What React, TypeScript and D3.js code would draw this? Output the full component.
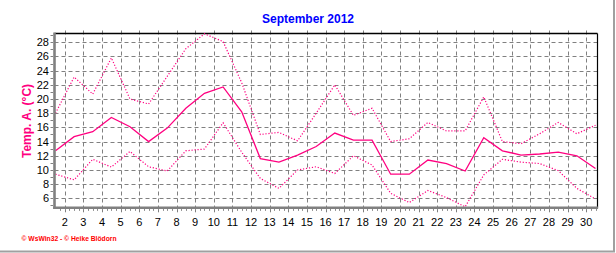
import React from "react";
import * as d3 from "d3";

const days = [1,2,3,4,5,6,7,8,9,10,11,12,13,14,15,16,17,18,19,20,21,22,23,24,25,26,27,28,29,30];
const maxT = [18.0,23.1,20.7,25.8,20.0,19.3,23.2,27.1,29.2,28.1,22.3,15.0,15.3,14.1,18.0,22.0,17.7,18.7,14.0,14.4,16.7,15.5,15.5,20.3,14.0,13.7,15.1,16.7,15.1,16.3];
const avgT = [12.7,14.7,15.4,17.4,16.1,14.0,15.9,18.7,20.8,21.7,18.2,11.6,11.1,12.1,13.3,15.2,14.2,14.2,9.4,9.4,11.4,10.9,9.85,14.55,12.7,12.1,12.25,12.5,12.0,10.2];
const minT = [9.4,8.6,11.5,10.4,12.6,10.45,9.85,12.7,12.95,16.65,12.5,8.8,7.4,10.0,10.45,9.5,12.0,10.7,6.7,5.4,7.1,6.1,4.8,9.3,11.5,11.1,10.9,9.9,7.4,5.9];
const yTicks = [6,8,10,12,14,16,18,20,22,24,26,28];
const xTicks = [2,3,4,5,6,7,8,9,10,11,12,13,14,15,16,17,18,19,20,21,22,23,24,25,26,27,28,29,30];
const title = "September 2012";
const yTitle = "Temp. A. (°C)";
const footer = "© WsWin32 - © Heike Blödorn";

const W = 616, H = 253;
const PL = 54.5, PR = 597.5, PT = 33.5, PB = 207.8;
const PINK = "#FF0080";

export default function App() {
  const x = d3.scaleLinear().domain([1.5, 30.5]).range([55.5, 595.5]);
  const y = d3.scaleLinear().domain([6, 28]).range([198.3, 42.3]);
  const line = d3.line<number>().x((_, i) => x(days[i] + 0.5)).y((v) => y(v));

  const minorX: number[] = [];
  for (let d = 1.75; d <= 30.5; d += 0.25) if (x(d) > PL + 1 && x(d) < PR) minorX.push(d);
  const minorY = d3.range(5, 30).filter((v) => y(v) > PT && y(v) < PB);

  return (
    <svg width={W} height={H} style={{ position: "absolute", left: 0, top: 0, background: "#fff" }}
      fontFamily="Arial, 'Liberation Sans', sans-serif">
      {/* outer frame shadow */}
      <line x1={614} y1={0} x2={614} y2={252} stroke="#a0a0a0" strokeWidth={2} />
      <line x1={0} y1={251.5} x2={615} y2={251.5} stroke="#a0a0a0" strokeWidth={2} />

      <text x={308} y={23} textAnchor="middle" fontSize={12} fontWeight="bold" fill="#0000FF">{title}</text>

      {/* grid */}
      {yTicks.map((t) => (
        <line key={"gy" + t} x1={PL} x2={PR} y1={Math.round(y(t)) + 0.5} y2={Math.round(y(t)) + 0.5}
          stroke="#808080" strokeWidth={1} strokeDasharray="4,3" />
      ))}
      {xTicks.map((t) => (
        <line key={"gx" + t} x1={Math.round(x(t)) + 0.5} x2={Math.round(x(t)) + 0.5} y1={PT - 3} y2={PB}
          stroke="#808080" strokeWidth={1} strokeDasharray="4,3" />
      ))}

      {/* plot frame */}
      <line x1={PL} y1={PT} x2={PR} y2={PT} stroke="#000" strokeWidth={1.3} />
      <line x1={PR} y1={PT} x2={PR} y2={PB} stroke="#000" strokeWidth={1.2} />

      {/* series */}
      <path d={line(maxT) || ""} fill="none" stroke={PINK} strokeWidth={1.2} strokeDasharray="1.2,1.8" />
      <path d={line(minT) || ""} fill="none" stroke={PINK} strokeWidth={1.2} strokeDasharray="1.2,1.8" />
      <path d={line(avgT) || ""} fill="none" stroke={PINK} strokeWidth={1.3} />

      {/* axes */}
      <line x1={PL} y1={PT - 1} x2={PL} y2={PB + 1.2} stroke="#808080" strokeWidth={2.6} />
      <line x1={PL - 1.3} y1={PB} x2={PR + 0.6} y2={PB} stroke="#808080" strokeWidth={2.6} />

      {/* y ticks */}
      {minorY.map((v) => (
        <line key={"my" + v} x1={50.5} x2={53} y1={Math.round(y(v)) + 0.5} y2={Math.round(y(v)) + 0.5} stroke="#808080" strokeWidth={1} />
      ))}
      {yTicks.map((t) => (
        <text key={"ly" + t} x={49} y={y(t) + 4} textAnchor="end" fontSize={11} fill="#000">{t}</text>
      ))}

      {/* x ticks */}
      {minorX.map((d, i) => (
        <line key={"mx" + i} x1={Math.round(x(d)) + 0.5} x2={Math.round(x(d)) + 0.5} y1={PB + 1.3}
          y2={Number.isInteger(d) ? PB + 4.5 : PB + 3} stroke="#808080" strokeWidth={1} />
      ))}
      {xTicks.map((t) => (
        <text key={"lx" + t} x={x(t)} y={226} textAnchor="middle" fontSize={11} fill="#000">{t}</text>
      ))}

      <text transform={`translate(31,121) rotate(-90)`} textAnchor="middle" fontSize={12} fontWeight="bold" fill={PINK}>{yTitle}</text>

      <text x={21.5} y={241} fontSize={7} fontWeight="bold" fill="#FF0000" textLength={95} lengthAdjust="spacingAndGlyphs">{footer}</text>
    </svg>
  );
}
